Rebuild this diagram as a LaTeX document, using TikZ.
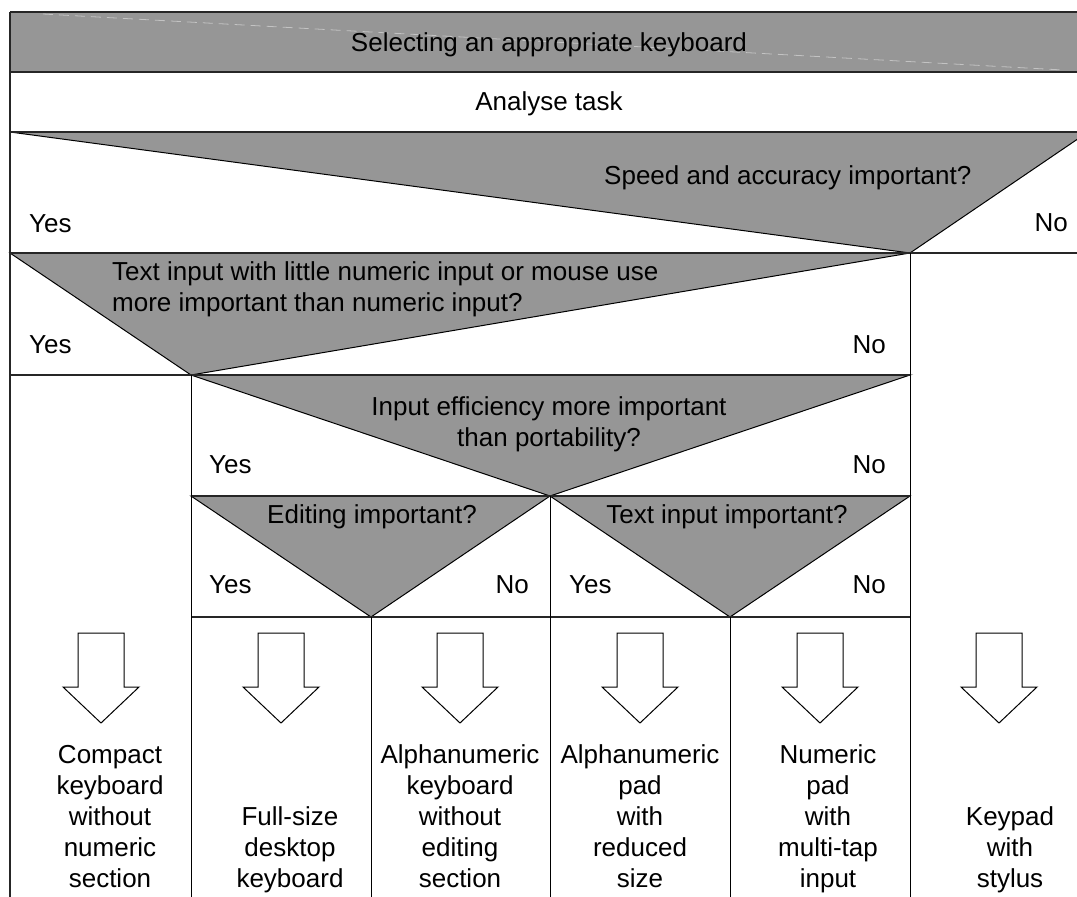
\documentclass[tikz,border=0pt]{standalone}
\usepackage{fontspec}
\setmainfont{Liberation Sans}
\definecolor{qgray}{RGB}{150,150,150}
\definecolor{faint}{RGB}{195,195,195}

\begin{document}
\begin{tikzpicture}[x=1pt,y=-1pt,
	lbl/.style={inner sep=0pt, font=\fontsize{26}{31}\selectfont},
	yes/.style={lbl, anchor=base west},
	no/.style={lbl, anchor=base east},
	res/.style={lbl, align=center, anchor=base},
	tri/.style={fill=qgray, draw=black, line width=1pt},
	rowline/.style={draw=black!85, line width=1.6pt},
	colline/.style={draw=black, line width=1pt},
	blockarrow/.style={draw=black, line width=1pt, line join=miter}]
	\useasboundingbox (0,0) rectangle (1077,897);
	\clip (0,0) rectangle (1077,897);
	% title band
	\fill[qgray] (10,12) rectangle (1088,72);
	\draw[faint, line width=0.8pt, dash pattern=on 10pt off 6pt] (43,14)--(1063,70);
	% question triangles
	\draw[tri] (10,132)--(1088,132)--(910,253)--cycle;
	\draw[tri] (10,253)--(910,253)--(191,375)--cycle;
	\draw[tri] (191,375)--(910,375)--(550,496)--cycle;
	\draw[tri] (191,496)--(550,496)--(371,617)--cycle;
	\draw[tri] (550,496)--(910,496)--(730,617)--cycle;
	% rows
	\draw[rowline] (10,12)--(1088,12);
	\draw[rowline] (10,72)--(1088,72);
	\draw[rowline] (10,132)--(1088,132);
	\draw[rowline] (10,253)--(1088,253);
	\draw[rowline] (10,375)--(910,375);
	\draw[rowline] (191,496)--(910,496);
	\draw[rowline] (191,617)--(910,617);
	% columns
	\draw[rowline] (10,12)--(10,897);
	\draw[colline] (910,253)--(910,897);
	\draw[colline] (191,375)--(191,897);
	\draw[colline] (550,496)--(550,897);
	\draw[colline] (371,617)--(371,897);
	\draw[colline] (730,617)--(730,897);
	% outcome arrows
	\draw[blockarrow] (78,633) -- ++(46,0) -- ++(0,54) -- ++(15,0) -- ++(-38,36) -- ++(-38,-36) -- ++(15,0) -- cycle;
	\draw[blockarrow] (258,633) -- ++(46,0) -- ++(0,54) -- ++(15,0) -- ++(-38,36) -- ++(-38,-36) -- ++(15,0) -- cycle;
	\draw[blockarrow] (437,633) -- ++(46,0) -- ++(0,54) -- ++(15,0) -- ++(-38,36) -- ++(-38,-36) -- ++(15,0) -- cycle;
	\draw[blockarrow] (617,633) -- ++(46,0) -- ++(0,54) -- ++(15,0) -- ++(-38,36) -- ++(-38,-36) -- ++(15,0) -- cycle;
	\draw[blockarrow] (797,633) -- ++(46,0) -- ++(0,54) -- ++(15,0) -- ++(-38,36) -- ++(-38,-36) -- ++(15,0) -- cycle;
	\draw[blockarrow] (976,633) -- ++(46,0) -- ++(0,54) -- ++(15,0) -- ++(-38,36) -- ++(-38,-36) -- ++(15,0) -- cycle;
	% texts
	\node[lbl, anchor=base] (title) at (549,51) {Selecting an appropriate keyboard};
	\node[lbl, anchor=base] (task) at (549,110) {Analyse task};
	\node[lbl, anchor=base west] (speed) at (604,184) {Speed and accuracy important?};
	\node[yes] (yesA) at (29,232) {Yes};
	\node[no] (noA) at (1068,231) {No};
	\node[lbl, align=left, anchor=base west] (textin) at (112,311) {Text input with little numeric input or mouse use\\more important than numeric input?};
	\node[yes] (yesB) at (29,353) {Yes};
	\node[no] (noB) at (886,353) {No};
	\node[res] (effic) at (549,446) {Input efficiency more important\\than portability?};
	\node[yes] (yesC) at (209,473) {Yes};
	\node[no] (noC) at (886,473) {No};
	\node[lbl, anchor=base] (editing) at (372,523) {Editing important?};
	\node[lbl, anchor=base] (textimp) at (727,523) {Text input important?};
	\node[yes] (yesD) at (209,593) {Yes};
	\node[no] (noD) at (529,593) {No};
	\node[yes] (yesE) at (569,593) {Yes};
	\node[no] (noE) at (886,593) {No};
	\node[res] (compact) at (110,887) {Compact\\keyboard\\without\\numeric\\section};
	\node[res] (fullsize) at (290,887) {Full-size\\desktop\\keyboard};
	\node[res] (alphakb) at (460,887) {Alphanumeric\\keyboard\\without\\editing\\section};
	\node[res] (alphapad) at (640,887) {Alphanumeric\\pad\\with\\reduced\\size};
	\node[res] (numpad) at (828,887) {Numeric\\pad\\with\\multi-tap\\input};
	\node[res] (keypad) at (1010,887) {Keypad\\with\\stylus};
\end{tikzpicture}
\end{document}
